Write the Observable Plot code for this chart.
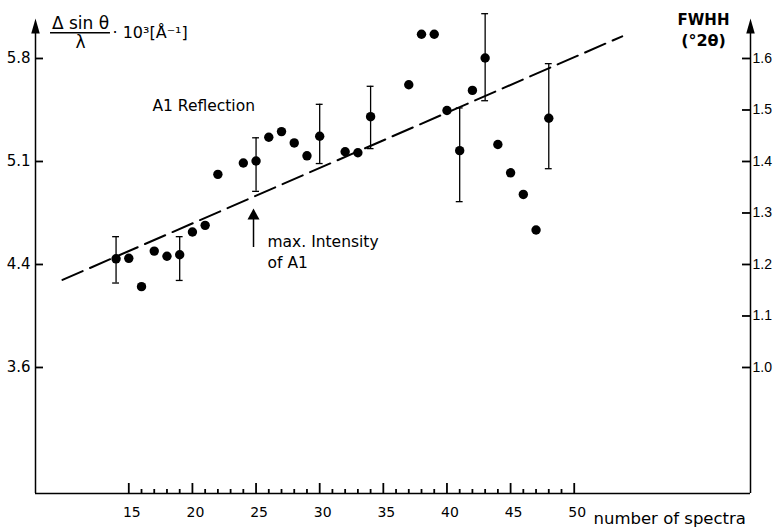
<!DOCTYPE html>
<html><head><meta charset="utf-8">
<script src="https://cdn.jsdelivr.net/npm/d3@7"></script>
<script src="https://cdn.jsdelivr.net/npm/@observablehq/plot@0.6"></script>
<style>body{margin:0;background:#fff;} svg{display:block;}</style>
</head><body><div id="chart"></div>
<script>
// measured points: number of spectra vs FWHH (°2θ)
const spectra = [14,15,16,17,18,19,20,21,22,24,25,26,27,28,29,30,32,33,34,37,38,39,40,41,42,43,44,45,46,47,48];
const fwhh    = [1.211,1.212,1.157,1.226,1.216,1.219,1.263,1.276,1.375,1.397,1.401,1.447,1.458,1.436,1.411,1.449,1.419,1.417,1.487,1.549,1.647,1.647,1.499,1.421,1.538,1.601,1.433,1.378,1.336,1.267,1.484];
// error bars
const errSpectra = [14,19,25,30,34,41,43,48];
const errLow     = [1.164,1.169,1.342,1.396,1.425,1.322,1.518,1.386];
const errHigh    = [1.254,1.254,1.446,1.511,1.546,1.504,1.687,1.590];
// dashed trend line
const trendX = [9.79, 53.77];
const trendY = [1.170, 1.643];
// ticks
const fwhhTicks = [1.0,1.1,1.2,1.3,1.4,1.5,1.6];
const leftTickPos = [1.0,1.2,1.4,1.6];
const leftTickLabels = ["3.6","4.4","5.1","5.8"];
const xMajorTicks = [15,20,25,30,35,40,45,50];
const xMinorTicks = d3.range(15,51).filter(d => d % 5 !== 0);
// annotations
const annotText = ["A1 Reflection","max. Intensity","of A1"];
const annotX = [16.86, 25.9, 25.9];
const annotY = [1.499, 1.233, 1.194];
const markerX = [24.8], markerY1 = [1.233], markerY2 = [1.298];
// scale extents
const xDomain = [7.67, 63.85];
const yDomain = [0.7553, 1.7126];
const axisTop = 1.662;

const W = 773, H = 529, mL = 35, mR = 23, mT = 0, mB = 36;
const frameW = W - mL - mR, frameH = H - mT - mB;
// pixel lengths expressed in scale units (for inward ticks)
const xPerPx = (xDomain[1] - xDomain[0]) / frameW;
const yPerPx = (yDomain[1] - yDomain[0]) / frameH;

const points = spectra.map((s,i) => ({s, v: fwhh[i]}));
const errs = errSpectra.map((s,i) => ({s, lo: errLow[i], hi: errHigh[i]}));
const trend = trendX.map((x,i) => ({x, y: trendY[i]}));

const axisHead = {draw(ctx, size){const r=Math.sqrt(size/Math.PI); ctx.moveTo(0,-1.6*r); ctx.lineTo(0.85*r,1.4*r); ctx.lineTo(-0.85*r,1.4*r); ctx.closePath();}};
const markHead = {draw(ctx, size){const r=Math.sqrt(size/Math.PI); ctx.moveTo(0,-1.1*r); ctx.lineTo(1.2*r,1.1*r); ctx.lineTo(-1.2*r,1.1*r); ctx.closePath();}};

const chart = Plot.plot({
  width: W, height: H,
  marginLeft: mL, marginRight: mR, marginTop: mT, marginBottom: mB,
  x: {domain: xDomain, axis: null},
  y: {domain: yDomain, axis: null},
  style: {fontFamily: "DejaVu Sans, sans-serif", color: "black", background: "white", overflow: "visible"},
  marks: [
    // axis lines
    Plot.ruleX([xDomain[0], xDomain[1]], {x: d => d, y1: yDomain[0], y2: axisTop, strokeWidth: 1.5}),
    Plot.ruleY([yDomain[0]], {y: d => d, x1: xDomain[0], x2: xDomain[1], strokeWidth: 1.5}),
    Plot.dot([xDomain[0], xDomain[1]], {x: d => d, y: axisTop, r: 5, symbol: axisHead, fill: "black", stroke: "none"}),
    // inward tick marks
    Plot.ruleY(leftTickPos, {y: d => d, x1: xDomain[0], x2: xDomain[0] + 8 * xPerPx, strokeWidth: 1.8}),
    Plot.ruleY(fwhhTicks, {y: d => d, x1: xDomain[1] - 8 * xPerPx, x2: xDomain[1], strokeWidth: 1.8}),
    Plot.ruleX(xMajorTicks, {x: d => d, y1: yDomain[0], y2: yDomain[0] + 10 * yPerPx, strokeWidth: 1.8}),
    Plot.ruleX(xMinorTicks, {x: d => d, y1: yDomain[0], y2: yDomain[0] + 4 * yPerPx, strokeWidth: 1.8}),
    // tick labels
    Plot.axisY(leftTickPos, {anchor: "left", tickSize: 0, tickPadding: 5,
      tickFormat: d => leftTickLabels[leftTickPos.indexOf(d)], fontSize: 15}),
    Plot.axisY(fwhhTicks, {anchor: "right", tickSize: 0, tickPadding: 2,
      tickFormat: d3.format(".1f"), fontSize: 14, fontFamily: "Liberation Sans, sans-serif"}),
    Plot.axisX(xMajorTicks, {anchor: "bottom", tickSize: 0, tickPadding: 14, dx: 3, fontSize: 14}),
    // axis titles
    Plot.text(["Δ sin θ"], {text: d => d, frameAnchor: "top-left", dx: 45, dy: 28, textAnchor: "middle", lineAnchor: "bottom", fontSize: 17}),
    Plot.ruleY([1.650], {y: d => d, x1: 8.85, x2: 13.56, strokeWidth: 1.5}),
    Plot.text(["λ"], {text: d => d, frameAnchor: "top-left", dx: 45, dy: 47, textAnchor: "middle", lineAnchor: "bottom", fontSize: 17}),
    Plot.text(["· 10³[Å⁻¹]"], {text: d => d, frameAnchor: "top-left", dx: 77, dy: 37, textAnchor: "start", lineAnchor: "bottom", fontSize: 16}),
    Plot.text(["FWHH"], {text: d => d, frameAnchor: "top-right", dx: -47, dy: 24, textAnchor: "middle", lineAnchor: "bottom", fontSize: 15, fontWeight: "bold"}),
    Plot.text(["(°2θ)"], {text: d => d, frameAnchor: "top-right", dx: -47, dy: 45, textAnchor: "middle", lineAnchor: "bottom", fontSize: 16, fontWeight: "bold"}),
    Plot.text(["number of spectra"], {text: d => d, frameAnchor: "bottom-right", dx: -157, dy: 30, textAnchor: "start", lineAnchor: "bottom", fontSize: 16.5}),
    // trend line
    Plot.line(trend, {x: "x", y: "y", stroke: "black", strokeWidth: 2, strokeDasharray: "22,8"}),
    // error bars
    Plot.ruleX(errs, {x: "s", y1: "lo", y2: "hi", strokeWidth: 1.3}),
    Plot.ruleY(errs, {y: "lo", x1: d => d.s - 0.27, x2: d => d.s + 0.27, strokeWidth: 1.3}),
    Plot.ruleY(errs, {y: "hi", x1: d => d.s - 0.27, x2: d => d.s + 0.27, strokeWidth: 1.3}),
    // points
    Plot.dot(points, {x: "s", y: "v", r: 4.7, fill: "black", stroke: "none"}),
    // annotations
    Plot.text(annotText, {x: (d,i) => annotX[i], y: (d,i) => annotY[i], text: d => d, textAnchor: "start", lineAnchor: "bottom", fontSize: 15.5}),
    Plot.ruleX(markerX, {x: d => d, y1: markerY1[0], y2: markerY2[0], strokeWidth: 1.5}),
    Plot.dot(markerX, {x: d => d, y: markerY2[0], r: 5, symbol: markHead, fill: "black", stroke: "none"})
  ]
});
document.getElementById("chart").append(chart);
</script>
</body></html>
